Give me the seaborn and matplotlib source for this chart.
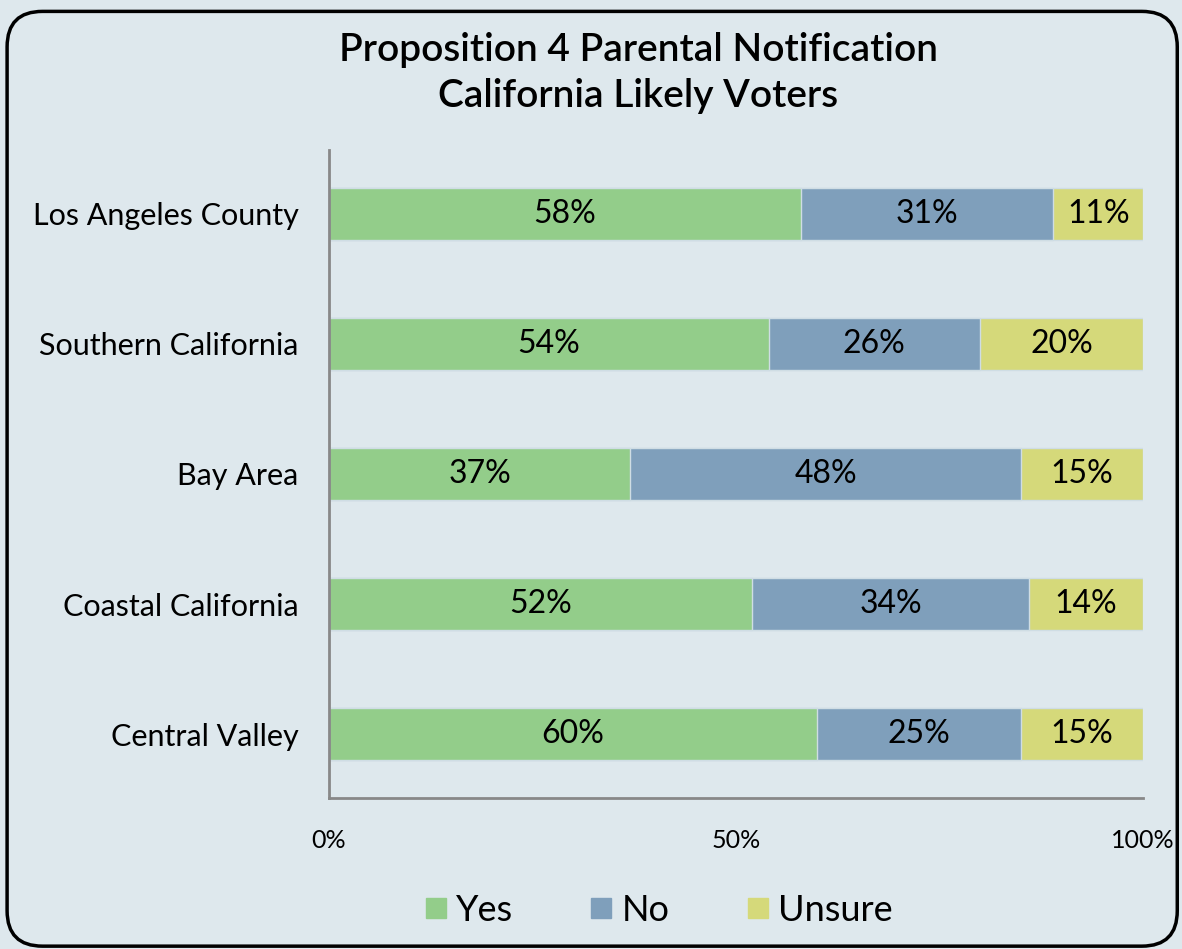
import numpy as np
import pandas as pd
import matplotlib
matplotlib.use("Agg")
import matplotlib.pyplot as plt
from matplotlib.patches import FancyBboxPatch
from matplotlib.lines import Line2D
import seaborn as sns

regions = ["Los Angeles County", "Southern California", "Bay Area",
           "Coastal California", "Central Valley"]
yes = [58, 54, 37, 52, 60]
no = [31, 26, 48, 34, 25]
unsure = [11, 20, 15, 14, 15]

bg = "#dee8ed"
c_yes = "#93cd8a"
c_no = "#7f9fbb"
c_unsure = "#d5d97a"

sns.set_style("white")
plt.rcParams["font.family"] = ["Lato", "DejaVu Sans"]
plt.rcParams["text.color"] = "black"
plt.rcParams["xtick.color"] = "black"
plt.rcParams["ytick.color"] = "black"

df = pd.DataFrame({"region": regions, "yes": yes, "no": no, "unsure": unsure})
df["yes_no"] = df["yes"] + df["no"]
df["total"] = df["yes_no"] + df["unsure"]

fig = plt.figure(figsize=(11.82, 9.49), dpi=100, facecolor=bg)
ax = fig.add_axes([0.2783, 0.1591, 0.6887, 0.6829])
ax.set_facecolor(bg)

# stacked look: draw cumulative totals from back to front
for col, c in [("total", c_unsure), ("yes_no", c_no), ("yes", c_yes)]:
    sns.barplot(data=df, y="region", x=col, color=c, width=0.4, orient="h",
                ax=ax, saturation=1, edgecolor="#cfdde4", linewidth=1)

for i, row in df.iterrows():
    ax.text(row["yes"] / 2, i, f"{row['yes']}%", ha="center", va="center", fontsize=23)
    ax.text(row["yes"] + row["no"] / 2, i, f"{row['no']}%", ha="center", va="center", fontsize=23)
    ax.text(row["yes_no"] + row["unsure"] / 2, i, f"{row['unsure']}%", ha="center", va="center", fontsize=23)

ax.set_xlim(0, 100)
ax.set_ylim(4.49, -0.49)
ax.set_xticks([0, 50, 100])
ax.set_xticklabels(["0%", "50%", "100%"], fontsize=18)
ax.tick_params(axis="x", length=0, pad=22)
ax.tick_params(axis="y", length=0, pad=22, labelsize=22)
ax.set_xlabel("")
ax.set_ylabel("")
for s in ["top", "right"]:
    ax.spines[s].set_visible(False)
for s in ["left", "bottom"]:
    ax.spines[s].set_color("#888888")
    ax.spines[s].set_linewidth(2)

fig.text(0.540, 0.947, "Proposition 4 Parental Notification", ha="center", va="center",
         fontsize=28, fontweight="semibold")
fig.text(0.540, 0.899, "California Likely Voters", ha="center", va="center",
         fontsize=28, fontweight="semibold")

handles = [Line2D([], [], marker="s", linestyle="", markersize=15, color=c)
           for c in (c_yes, c_no, c_unsure)]
fig.legend(handles, ["Yes", "No", "Unsure"], loc="center", bbox_to_anchor=(0.555, 0.041),
           ncol=3, frameon=False, fontsize=26, handletextpad=0.1, columnspacing=2.0,
           handlelength=0.9)

border = FancyBboxPatch((0.006, 0.003), 0.99, 0.985, boxstyle="round,pad=0,rounding_size=0.03",
                        transform=fig.transFigure, facecolor="none", edgecolor="black",
                        linewidth=2.5, mutation_aspect=1182 / 949)
fig.patches.append(border)

fig.savefig("out.png", dpi=100, facecolor=bg)
